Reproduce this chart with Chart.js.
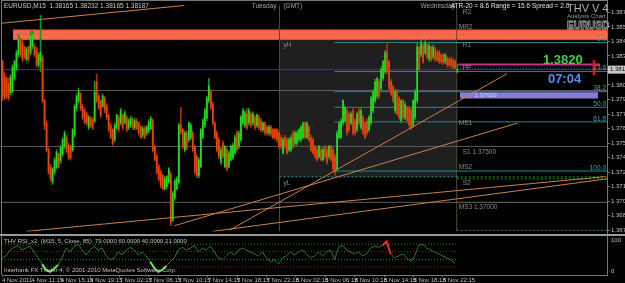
<!DOCTYPE html>
<html>
<head>
<meta charset="utf-8">
<script src="https://cdn.jsdelivr.net/npm/chart.js@4.4.0/dist/chart.umd.min.js"></script>
<style>
  html, body { margin: 0; padding: 0; background: #000; }
  #wrap { position: relative; width: 625px; height: 283px; background: #000; overflow: hidden; }
  #mainChart { position: absolute; left: 0; top: 0; }
  #rsiChart { position: absolute; left: 0; top: 236px; }
</style>
</head>
<body>
<div id="wrap">
  <canvas id="mainChart" width="625" height="236"></canvas>
  <canvas id="rsiChart" width="625" height="47"></canvas>
</div>
<script>
// EURUSD M15, 4-8 Nov 2011
const opens = [
  1.3826,1.3814,1.3811,1.3806,1.3798,1.3799,1.3811,1.3819,1.3832,1.3846,
  1.3843,1.3839,1.3828,1.3839,1.3834,1.3839,1.3840,1.3837,1.3823,1.3826,
  1.3830,1.3791,1.3771,1.3747,1.3732,1.3718,1.3727,1.3731,1.3743,1.3737,
  1.3743,1.3750,1.3758,1.3751,1.3750,1.3747,1.3760,1.3784,1.3791,1.3797,
  1.3786,1.3782,1.3779,1.3767,1.3775,1.3774,1.3773,1.3808,1.3795,1.3791,
  1.3786,1.3793,1.3786,1.3778,1.3769,1.3765,1.3756,1.3767,1.3776,1.3771,
  1.3778,1.3771,1.3776,1.3767,1.3769,1.3774,1.3767,1.3773,1.3771,1.3767,
  1.3760,1.3766,1.3762,1.3764,1.3766,1.3773,1.3750,1.3741,1.3732,1.3727,
  1.3724,1.3712,1.3714,1.3718,1.3725,1.3684,1.3704,1.3712,1.3718,1.3769,
  1.3765,1.3747,1.3762,1.3756,1.3758,1.3762,1.3750,1.3741,1.3724,1.3732,
  1.3758,1.3769,1.3775,1.3791,1.3799,1.3788,1.3771,1.3762,1.3756,1.3736,
  1.3753,1.3732,1.3747,1.3732,1.3738,1.3740,1.3744,1.3762,1.3750,1.3756,
  1.3771,1.3769,1.3779,1.3771,1.3779,1.3771,1.3776,1.3769,1.3776,1.3773,
  1.3765,1.3771,1.3767,1.3762,1.3767,1.3765,1.3765,1.3765,1.3762,1.3758,
  1.3744,1.3758,1.3756,1.3747,1.3747,1.3762,1.3753,1.3753,1.3756,1.3756,
  1.3758,1.3771,1.3758,1.3767,1.3758,1.3756,1.3750,1.3747,1.3741,1.3747,
  1.3738,1.3750,1.3747,1.3741,1.3750,1.3747,1.3741,1.3730,1.3758,1.3758,
  1.3771,1.3773,1.3782,1.3779,1.3771,1.3782,1.3773,1.3765,1.3782,1.3767,
  1.3776,1.3771,1.3773,1.3765,1.3771,1.3782,1.3791,1.3795,1.3808,1.3802,
  1.3811,1.3817,1.3834,1.3826,1.3808,1.3804,1.3782,1.3799,1.3793,1.3773,
  1.3791,1.3776,1.3785,1.3784,1.3782,1.3769,1.3776,1.3791,1.3839,1.3832,
  1.3840,1.3834,1.3841,1.3828,1.3839,1.3830,1.3837,1.3834,1.3834,1.3832,
  1.3832,1.3826,1.3829,1.3828,1.3828,1.3827,1.3826,1.38165
];
const highs = [
  1.3827,1.3816,1.3812,1.3811,1.3814,1.3823,1.3827,1.3836,1.3850,1.3847,
  1.3845,1.3840,1.3839,1.3840,1.3853,1.3853,1.3842,1.3839,1.3834,1.3867,
  1.3832,1.3792,1.3773,1.3749,1.3734,1.3731,1.3740,1.3747,1.3744,1.3751,
  1.3758,1.3764,1.3760,1.3753,1.3751,1.3766,1.3788,1.3797,1.3802,1.3798,
  1.3788,1.3784,1.3781,1.3778,1.3777,1.3776,1.3808,1.3815,1.3797,1.3792,
  1.3797,1.3795,1.3788,1.3779,1.3771,1.3766,1.3771,1.3779,1.3778,1.3784,
  1.3779,1.3782,1.3778,1.3775,1.3777,1.3776,1.3775,1.3775,1.3772,1.3769,
  1.3768,1.3768,1.3769,1.3774,1.3777,1.3775,1.3751,1.3743,1.3734,1.3729,
  1.3725,1.3723,1.3724,1.3731,1.3727,1.3710,1.3721,1.3723,1.3771,1.3785,
  1.3766,1.3764,1.3764,1.3772,1.3771,1.3764,1.3751,1.3743,1.3740,1.3766,
  1.3775,1.3784,1.3795,1.3811,1.3801,1.3790,1.3772,1.3764,1.3758,1.3749,
  1.3755,1.3751,1.3749,1.3746,1.3751,1.3753,1.3760,1.3764,1.3764,1.3778,
  1.3784,1.3782,1.3784,1.3784,1.3781,1.3781,1.3778,1.3779,1.3778,1.3775,
  1.3772,1.3772,1.3769,1.3769,1.3769,1.3766,1.3766,1.3766,1.3764,1.3760,
  1.3758,1.3760,1.3758,1.3758,1.3760,1.3764,1.3764,1.3764,1.3766,1.3769,
  1.3772,1.3772,1.3772,1.3769,1.3760,1.3758,1.3751,1.3749,1.3751,1.3749,
  1.3749,1.3751,1.3749,1.3751,1.3751,1.3749,1.3743,1.3764,1.3772,1.3775,
  1.3792,1.3786,1.3784,1.3781,1.3781,1.3784,1.3775,1.3781,1.3784,1.3784,
  1.3778,1.3772,1.3775,1.3778,1.3795,1.3801,1.3810,1.3812,1.3810,1.3821,
  1.3827,1.3836,1.3843,1.3827,1.3810,1.3805,1.3801,1.3801,1.3795,1.3792,
  1.3792,1.3790,1.3786,1.3786,1.3784,1.3792,1.3801,1.3843,1.3840,1.3845,
  1.3842,1.3845,1.3843,1.3842,1.3840,1.3841,1.3839,1.3836,1.3836,1.3833,
  1.3833,1.3833,1.3831,1.3830,1.3830,1.3829,1.3828,1.38232
];
const lows = [
  1.3791,1.3792,1.3793,1.3791,1.3796,1.3798,1.3809,1.3818,1.3830,1.3830,
  1.3826,1.3828,1.3826,1.3826,1.3832,1.3837,1.3830,1.3821,1.3821,1.3817,
  1.3789,1.3765,1.3745,1.3725,1.3719,1.3716,1.3725,1.3730,1.3731,1.3735,
  1.3741,1.3748,1.3744,1.3738,1.3738,1.3745,1.3758,1.3782,1.3789,1.3782,
  1.3774,1.3770,1.3769,1.3765,1.3767,1.3765,1.3771,1.3789,1.3783,1.3776,
  1.3785,1.3780,1.3774,1.3763,1.3757,1.3751,1.3754,1.3765,1.3763,1.3769,
  1.3765,1.3770,1.3763,1.3765,1.3767,1.3765,1.3765,1.3765,1.3760,1.3757,
  1.3758,1.3757,1.3760,1.3762,1.3765,1.3745,1.3737,1.3725,1.3719,1.3713,
  1.3711,1.3711,1.3712,1.3717,1.3679,1.3683,1.3702,1.3711,1.3717,1.3761,
  1.3748,1.3745,1.3747,1.3754,1.3756,1.3745,1.3725,1.3722,1.3722,1.3731,
  1.3757,1.3767,1.3773,1.3789,1.3783,1.3769,1.3757,1.3745,1.3739,1.3734,
  1.3739,1.3731,1.3728,1.3731,1.3737,1.3738,1.3743,1.3745,1.3748,1.3754,
  1.3769,1.3767,1.3765,1.3769,1.3767,1.3769,1.3765,1.3767,1.3765,1.3763,
  1.3763,1.3760,1.3760,1.3760,1.3759,1.3757,1.3756,1.3754,1.3748,1.3748,
  1.3743,1.3748,1.3743,1.3745,1.3745,1.3748,1.3751,1.3751,1.3754,1.3754,
  1.3757,1.3757,1.3757,1.3754,1.3745,1.3743,1.3739,1.3737,1.3739,1.3737,
  1.3737,1.3739,1.3734,1.3739,1.3737,1.3728,1.3724,1.3728,1.3757,1.3757,
  1.3769,1.3771,1.3760,1.3763,1.3769,1.3760,1.3760,1.3763,1.3769,1.3765,
  1.3760,1.3757,1.3760,1.3763,1.3769,1.3780,1.3789,1.3793,1.3793,1.3800,
  1.3809,1.3815,1.3815,1.3800,1.3795,1.3789,1.3780,1.3778,1.3774,1.3771,
  1.3774,1.3774,1.3771,1.3767,1.3765,1.3767,1.3774,1.3789,1.3818,1.3830,
  1.3824,1.3832,1.3828,1.3826,1.3826,1.3828,1.3826,1.3826,1.3824,1.3824,
  1.3823,1.3824,1.3821,1.3821,1.3820,1.3819,1.3819,1.38165
];
const closes = [
  1.3795,1.3793,1.3795,1.3793,1.3812,1.3821,1.3826,1.3834,1.3846,1.3832,
  1.3828,1.3830,1.3837,1.3828,1.3849,1.3850,1.3832,1.3823,1.3832,1.3834,
  1.3791,1.3769,1.3747,1.3727,1.3721,1.3730,1.3738,1.3745,1.3732,1.3749,
  1.3756,1.3762,1.3745,1.3740,1.3740,1.3765,1.3786,1.3795,1.3799,1.3784,
  1.3776,1.3771,1.3771,1.3776,1.3769,1.3767,1.3799,1.3791,1.3785,1.3778,
  1.3795,1.3782,1.3776,1.3765,1.3758,1.3753,1.3769,1.3778,1.3765,1.3782,
  1.3767,1.3780,1.3765,1.3773,1.3775,1.3767,1.3773,1.3766,1.3762,1.3758,
  1.3766,1.3758,1.3767,1.3772,1.3775,1.3747,1.3738,1.3727,1.3721,1.3715,
  1.3712,1.3721,1.3723,1.3730,1.3682,1.3708,1.3719,1.3721,1.3769,1.3763,
  1.3750,1.3762,1.3749,1.3771,1.3769,1.3747,1.3727,1.3724,1.3738,1.3765,
  1.3773,1.3782,1.3793,1.3804,1.3785,1.3771,1.3758,1.3747,1.3741,1.3747,
  1.3741,1.3750,1.3730,1.3744,1.3750,1.3751,1.3758,1.3747,1.3762,1.3776,
  1.3782,1.3780,1.3767,1.3782,1.3769,1.3779,1.3767,1.3778,1.3767,1.3765,
  1.3771,1.3762,1.3762,1.3767,1.3761,1.3758,1.3758,1.3756,1.3750,1.3750,
  1.3756,1.3750,1.3744,1.3756,1.3758,1.3750,1.3762,1.3762,1.3765,1.3767,
  1.3771,1.3758,1.3771,1.3756,1.3747,1.3744,1.3741,1.3738,1.3750,1.3738,
  1.3747,1.3741,1.3736,1.3750,1.3738,1.3730,1.3727,1.3762,1.3771,1.3773,
  1.3791,1.3785,1.3762,1.3765,1.3779,1.3762,1.3762,1.3779,1.3771,1.3782,
  1.3762,1.3758,1.3762,1.3776,1.3793,1.3799,1.3808,1.3811,1.3795,1.3819,
  1.3826,1.3834,1.3817,1.3802,1.3797,1.3791,1.3799,1.3779,1.3776,1.3791,
  1.3776,1.3788,1.3773,1.3769,1.3766,1.3791,1.3799,1.3839,1.3819,1.3843,
  1.3826,1.3843,1.3830,1.3840,1.3828,1.3839,1.3828,1.3827,1.3826,1.3826,
  1.3825,1.3832,1.3823,1.3823,1.3822,1.3821,1.3820,1.38187
];

// RSI(5), one reading every second bar
const rsiValues = [
  44,49,64,71,76,64,69,74,59,44,
  28,13,8,16,26,44,69,59,74,79,
  64,51,64,74,64,69,49,39,44,59,
  51,64,71,64,51,59,49,34,18,8,
  13,23,34,44,64,71,64,69,76,59,
  69,64,74,59,44,39,49,59,51,64,
  69,64,59,54,49,59,44,34,39,28,
  44,49,59,51,59,64,54,44,49,59,
  49,59,64,39,71,76,64,59,54,59,
  49,54,69,74,71,76,86,54,44,49,
  54,44,34,49,76,79,69,64,59,54,
  49,44,39,31
];
const rsiLevels = [79, 60, 40, 21];

const dateLabels = [
  '4 Nov 2011','4 Nov 11:15','4 Nov 15:15','4 Nov 19:15','7 Nov 02:15','7 Nov 06:15',
  '7 Nov 10:15','7 Nov 14:15','7 Nov 18:15','7 Nov 22:15','8 Nov 02:15','8 Nov 06:15',
  '8 Nov 10:15','8 Nov 14:15','8 Nov 18:15','8 Nov 22:15'
];
const priceTicks = [1.3870,1.3857,1.3844,1.3831,1.3818,1.3805,1.3792,1.3779,1.3766,1.3753,1.3740,1.3727,1.3714,1.3701,1.3688,1.3675];

const bidPrice = 1.38187;
const roundLevels = [1.3800, 1.3750, 1.3700];
const fibLevels = [1.3843, 1.3817, 1.3799, 1.3785, 1.3772, 1.3728];
const fibLabels = ['0.0', '23.6', '38.2', '50.0', '61.8', '100.0'];
const pivotNotes = [['R2',1.3870],['MR2',1.3857],['R1',1.3841],['PP',1.3820],['MS1',1.3771],
  ['S1 1.37500',1.3745],['MS2',1.3731],['S2',1.3717],['MS3 1.37000',1.3696]];
// trend lines as [barIndex, price] pairs
const trendLines = [
  [[-1.5, 1.3860], [91, 1.38761]],
  [[12, 1.3674], [301, 1.3723]],
  [[86, 1.3679], [257.5, 1.3771]],
  [[113.5, 1.3675], [252, 1.3815]],
  [[105, 1.3674], [302, 1.3721]]
];

const Y_MIN = 1.36740, Y_MAX = 1.38769;
const X_MAX = 302;
const TUE = 138.5, WED = 227;
const FONT = '"Liberation Sans", Arial, sans-serif';
const BULL = '#22dd22', BEAR = '#e8440c';
const BULL_WICK = '#129a12', BEAR_WICK = '#a8300a';

Chart.defaults.font.family = FONT;

function line(points, color, extra) {
  return Object.assign({
    type: 'line',
    data: points.map(p => ({ x: p[0], y: p[1] })),
    borderColor: color, borderWidth: 1, pointRadius: 0, fill: false, order: 8
  }, extra || {});
}
function hLine(price, i0, i1, color, extra) {
  return line([[i0, price], [i1, price]], color, extra);
}

const isBull = closes.map((c, i) => c >= opens[i]);

const datasets = [];
// yesterday range box and resistance band
datasets.push(hLine(1.38456, TUE, WED, 'rgba(0,0,0,0)', { fill: { value: 1.37228 }, backgroundColor: '#1f1f1f', order: 12 }));
datasets.push(hLine(1.38543, 5.5, X_MAX, '#b83a22', { fill: { value: 1.38456 }, backgroundColor: '#ff6a4c', order: 11 }));
datasets.push(hLine(1.38456, 5.5, X_MAX, '#b83a22', { order: 11 }));
datasets.push(hLine(1.38500, 5.5, X_MAX, '#c85038', { borderDash: [1, 2], order: 10 }));
datasets.push(hLine(1.37985, 228.5, 297.5, 'rgba(0,0,0,0)', { fill: { value: 1.3793 }, backgroundColor: '#8a7ad6', order: 10 }));
roundLevels.forEach(p => datasets.push(hLine(p, 0, X_MAX, '#5c5c5c', { order: 9 })));
datasets.push(line([[TUE, Y_MIN], [TUE, Y_MAX]], '#4e4e34', { order: 9 }));
datasets.push(line([[WED, Y_MIN], [WED, Y_MAX]], '#4e4e34', { order: 9 }));
fibLevels.forEach(p => datasets.push(hLine(p, 166, X_MAX, '#1d8c8c', { order: 7 })));
datasets.push(hLine(1.37228, TUE, WED, '#2aa0a0', { borderDash: [2, 2], order: 7 }));
datasets.push(hLine(1.37228, WED, X_MAX, '#2a8a2a', { borderDash: [2, 2], order: 7 }));
datasets.push(hLine(1.37210, WED, X_MAX, '#2a8a2a', { borderDash: [2, 2], order: 7 }));
datasets.push(hLine(1.37500, WED, X_MAX, '#3a6a2a', { borderDash: [2, 2], order: 7 }));
datasets.push(hLine(1.37000, WED, X_MAX, '#6a6a2a', { borderDash: [2, 2], order: 7 }));
datasets.push(hLine(1.36750, WED, X_MAX, '#2a8a2a', { borderDash: [2, 2], order: 7 }));
datasets.push(hLine(1.38200, WED, X_MAX, '#707070', { borderDash: [1, 2], order: 7 }));
datasets.push(hLine(bidPrice, 0, X_MAX, '#3434aa', { order: 6 }));
datasets.push(hLine(1.38234, 227.5, 298.5, '#c0308c', { borderWidth: 2, order: 6 }));
// candles: wick then body, 1px each
datasets.push({
  type: 'bar', order: 2, grouped: false, barThickness: 1,
  data: highs.map((h, i) => ({ x: i + 0.25, y: [lows[i], h] })),
  backgroundColor: isBull.map(b => b ? BULL_WICK : BEAR_WICK)
});
datasets.push({
  type: 'bar', order: 1, grouped: false, barThickness: 1,
  data: opens.map((o, i) => ({ x: i + 0.25, y: [Math.min(o, closes[i]), Math.max(o, closes[i])] })),
  backgroundColor: isBull.map(b => b ? BULL : BEAR)
});
datasets.push({
  type: 'bar', order: 1, grouped: false, barThickness: 2,
  data: [{ x: 295.5, y: [1.3814, 1.3827] }], backgroundColor: '#d01818'
});
trendLines.forEach(t => datasets.push(line(t, '#c8804c', { order: 0 })));

function txt(ctx, s, x, y, color, size, opt) {
  opt = opt || {};
  ctx.font = (opt.bold ? 'bold ' : '') + size + 'px ' + FONT;
  ctx.fillStyle = color;
  ctx.textAlign = opt.align || 'left';
  ctx.textBaseline = opt.base || 'middle';
  ctx.fillText(s, x, y);
}

const mainOverlay = {
  id: 'mainOverlay',
  afterDraw(chart) {
    const { ctx, scales: { x, y } } = chart;
    ctx.save();
    ctx.strokeStyle = '#777';
    ctx.lineWidth = 1;
    ctx.strokeRect(1.5, 0.5, 606, 234);
    ctx.fillStyle = '#9a9a9a';
    ctx.fillRect(0, 234, 625, 2);

    txt(ctx, 'EURUSD,M15  1.38165 1.38232 1.38165 1.38187', 4, 6, '#c8c8c8', 6.5);
    txt(ctx, 'Tuesday', x.getPixelForValue(TUE) - 3, 6, '#a0a0a0', 6.5, { align: 'right' });
    txt(ctx, '(GMT)', x.getPixelForValue(TUE) + 4, 6, '#a0a0a0', 6.5);
    txt(ctx, 'Wednesday', x.getPixelForValue(WED) - 2, 6, '#a0a0a0', 6.5, { align: 'right' });
    txt(ctx, 'ATR-20 = 8.6 Range = 15.6 Spread = 2.0', x.getPixelForValue(WED) - 6, 6, '#e0e0e0', 6.5);

    txt(ctx, 'THV V 4', 567, 9, '#b0b0b0', 11);
    txt(ctx, 'Analysis Chart', 567, 16, '#9a9a9a', 6);
    ctx.font = 'bold 10px ' + FONT;
    ctx.strokeStyle = '#a0a0a0';
    ctx.lineWidth = 0.8;
    ctx.textAlign = 'left';
    ctx.textBaseline = 'middle';
    ctx.strokeText('EURUSD', 567, 26);

    txt(ctx, 'yH', x.getPixelForValue(TUE) + 4, y.getPixelForValue(1.3841), '#8a8a8a', 6.5);
    txt(ctx, 'yL', x.getPixelForValue(TUE) + 4, y.getPixelForValue(1.3717), '#8a8a8a', 6.5);
    pivotNotes.forEach(n => {
      const indent = n[0].charAt(0) === 'M' ? 2 : 6;
      txt(ctx, n[0], x.getPixelForValue(WED) + indent, y.getPixelForValue(n[1]), '#8a8a8a', 6.5);
    });
    txt(ctx, '1.37920', x.getPixelForValue(236), y.getPixelForValue(1.37958), '#d0d0ff', 6);
    fibLevels.forEach((p, k) => {
      txt(ctx, fibLabels[k], 606, y.getPixelForValue(p) - 3, '#2fb0b0', 6.5, { align: 'right' });
    });

    txt(ctx, '1.3820', x.getPixelForValue(270), y.getPixelForValue(1.3827), '#3fd23f', 13, { bold: true });
    txt(ctx, '07:04', x.getPixelForValue(272.5), y.getPixelForValue(1.3810), '#5a8cf0', 13, { bold: true });

    const by = y.getPixelForValue(bidPrice);
    ctx.fillStyle = '#c8c8c8';
    ctx.fillRect(608, by - 4, 17, 8);
    txt(ctx, bidPrice.toFixed(5), 610, by, '#000', 6);
    ctx.restore();
  }
};

new Chart(document.getElementById('mainChart'), {
  type: 'bar',
  data: { datasets },
  options: {
    responsive: false, animation: false, devicePixelRatio: 1,
    layout: { padding: { left: 2, top: 1, bottom: 2, right: 0 } },
    plugins: { legend: { display: false }, tooltip: { enabled: false } },
    scales: {
      x: { type: 'linear', display: false, min: 0, max: X_MAX, offset: false },
      y: {
        position: 'right', min: Y_MIN, max: Y_MAX,
        afterBuildTicks: s => { s.ticks = priceTicks.map(v => ({ value: v })); },
        afterFit: s => { s.width = 18; },
        ticks: { autoSkip: false, color: '#c0c0c0', font: { size: 6 }, padding: 1, callback: v => v.toFixed(5) },
        grid: { drawOnChartArea: false, tickLength: 3, color: '#777' },
        border: { color: '#777' }
      }
    }
  },
  plugins: [mainOverlay]
});

// RSI panel
const rsiPoints = rsiValues.map((v, k) => ({ x: k * 2, y: v }));
const lastBar = closes.length - 1;
const rsiSets = rsiLevels.map((lv, k) => hLine(lv, 0, lastBar, k % 2 === 0 ? '#1f8a1f' : '#8a2020', { borderDash: [1, 2], order: 5 }));
rsiSets.push({
  type: 'line', data: rsiPoints, pointRadius: 0, borderWidth: 1, borderColor: '#2a7a2a', order: 0,
  segment: {
    borderColor: c => Math.min(c.p0.parsed.y, c.p1.parsed.y) < 21 ? '#66ee55'
      : (Math.max(c.p0.parsed.y, c.p1.parsed.y) > 80 ? '#ff2a2a' : undefined),
    borderWidth: c => (Math.min(c.p0.parsed.y, c.p1.parsed.y) < 21 || Math.max(c.p0.parsed.y, c.p1.parsed.y) > 80) ? 2 : undefined
  }
});

const rsiOverlay = {
  id: 'rsiOverlay',
  afterDraw(chart) {
    const { ctx, scales: { y } } = chart;
    ctx.save();
    ctx.strokeStyle = '#777';
    ctx.beginPath();
    ctx.moveTo(1.5, 0); ctx.lineTo(1.5, y.bottom);
    ctx.stroke();
    txt(ctx, 'THV RSI_x2  (M15, 5, Close, 85)  79.0000 60.0000 40.0000 21.0000', 4, 5, '#c0c0c0', 6);
    txt(ctx, 'Interbank FX Trader 4, \u00a9 2001-2010 MetaQuotes Software Corp.', 4, 34, '#c0c0c0', 6);
    txt(ctx, '100', 611, y.getPixelForValue(100) + 1, '#c0c0c0', 6, { base: 'top' });
    txt(ctx, '0', 611, y.getPixelForValue(0) - 1, '#c0c0c0', 6, { base: 'bottom' });
    ctx.restore();
  }
};

new Chart(document.getElementById('rsiChart'), {
  type: 'line',
  data: { datasets: rsiSets },
  options: {
    responsive: false, animation: false, devicePixelRatio: 1,
    layout: { padding: { left: 2, top: 0, bottom: 0, right: 0 } },
    plugins: { legend: { display: false }, tooltip: { enabled: false } },
    scales: {
      x: {
        type: 'linear', min: 0, max: X_MAX, offset: false,
        afterBuildTicks: s => { s.ticks = dateLabels.map((_, k) => ({ value: k * 14.67 })); },
        afterFit: s => { s.height = 8; },
        ticks: { autoSkip: false, maxRotation: 0, align: 'start', padding: 0, color: '#c0c0c0', font: { size: 6 },
                 callback: (v, k) => dateLabels[k] },
        grid: { drawOnChartArea: false, tickLength: 2, color: '#777' },
        border: { color: '#777' }
      },
      y: {
        position: 'right', min: 0, max: 100,
        afterFit: s => { s.width = 18; },
        ticks: { display: false },
        grid: { drawOnChartArea: false, drawTicks: false },
        border: { color: '#777' }
      }
    }
  },
  plugins: [rsiOverlay]
});
</script>
</body>
</html>
